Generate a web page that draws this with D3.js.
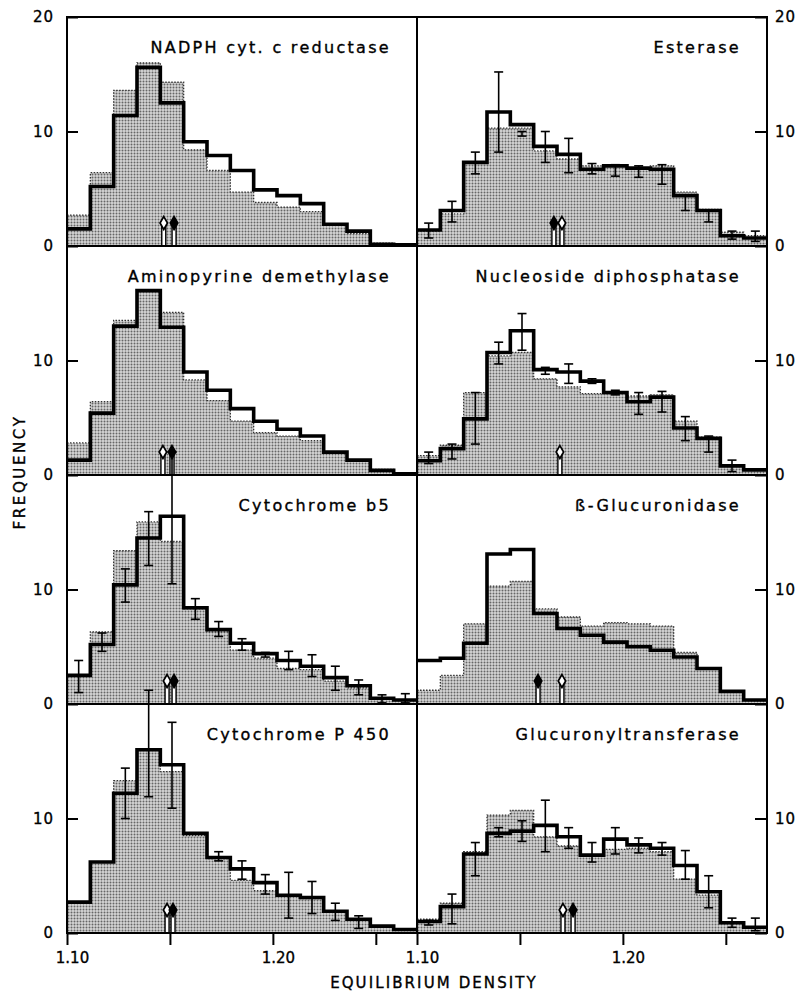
<!DOCTYPE html>
<html>
<head>
<meta charset="utf-8">
<script src="https://cdn.jsdelivr.net/npm/d3@7"></script>
<style>
  body { margin: 0; background: #fff; }
  svg { display: block; font-family: "DejaVu Sans", sans-serif; }
  .lbl { stroke: #000; stroke-width: 0.35px; }
</style>
</head>
<body>
<script>
// Values: 15 density bins from 1.10 to 1.27, frequency in %
const densityRange = [1.10, 1.27];

const titles = ["NADPH cyt. c reductase", "Esterase", "Aminopyrine demethylase", "Nucleoside diphosphatase",
    "Cytochrome b5", "ß-Glucuronidase", "Cytochrome P 450", "Glucuronyltransferase"];

// stippled histograms
const nadphShaded = [2.7, 6.4, 13.6, 16.0, 14.3, 8.4, 6.6, 4.7, 3.8, 3.4, 3.0, 1.8, 1.1, 0.25, 0.1];
const esteraseShaded = [1.3, 2.8, 7.3, 10.3, 10.3, 8.3, 7.6, 7.0, 7.0, 6.8, 7.0, 4.7, 3.2, 1.2, 0.9];
const aminoShaded = [2.8, 6.4, 13.5, 16.1, 14.2, 8.3, 6.5, 4.7, 3.7, 3.4, 3.0, 1.9, 1.3, 0.5, 0.2];
const nucleoShaded = [1.7, 2.6, 7.2, 10.4, 10.7, 8.4, 7.7, 7.1, 7.1, 6.9, 7.0, 4.7, 3.3, 0.8, 0.4];
const b5Shaded = [2.5, 6.3, 13.4, 15.9, 14.2, 8.3, 6.3, 4.7, 4.0, 3.1, 3.0, 2.0, 1.4, 0.4, 0.35];
const glucShaded = [1.2, 2.5, 7.0, 10.3, 10.7, 8.3, 7.6, 6.8, 7.1, 7.0, 6.8, 4.5, 3.1, 1.1, 0.35];
const p450Shaded = [2.7, 6.2, 13.3, 16.0, 14.1, 8.5, 6.5, 4.6, 3.7, 3.3, 3.0, 1.9, 1.1, 0.6, 0.3];
const gtShaded = [1.2, 2.6, 7.1, 10.3, 10.7, 8.4, 7.6, 6.8, 7.3, 7.4, 7.1, 4.7, 3.3, 0.9, 0.5];

// bold-line histograms
const nadphLine = [1.5, 5.2, 11.4, 15.6, 12.5, 9.1, 7.9, 6.6, 4.9, 4.4, 3.7, 1.9, 1.3, 0.15, 0.1];
const esteraseLine = [1.4, 3.1, 7.3, 11.7, 10.6, 8.7, 8.0, 6.7, 7.0, 6.8, 6.7, 4.4, 3.1, 0.9, 0.7];
const aminoLine = [1.3, 5.4, 13.0, 16.1, 12.9, 9.0, 7.4, 5.8, 4.7, 4.0, 3.4, 2.0, 1.3, 0.4, 0.1];
const nucleoLine = [1.25, 2.3, 4.9, 10.7, 12.6, 9.2, 9.0, 8.2, 7.2, 6.4, 6.8, 4.1, 3.2, 0.8, 0.45];
const b5Line = [2.5, 5.2, 10.4, 14.5, 16.4, 8.4, 6.5, 5.3, 4.4, 3.8, 3.3, 2.3, 1.6, 0.5, 0.35];
const glucLine = [3.8, 4.0, 5.3, 13.1, 13.5, 7.9, 6.6, 6.0, 5.4, 5.0, 4.7, 4.1, 3.1, 1.1, 0.35];
const p450Line = [2.7, 6.2, 12.2, 16.0, 14.7, 8.7, 6.6, 5.6, 4.4, 3.3, 3.1, 1.9, 1.2, 0.6, 0.3];
const gtLine = [1.0, 2.3, 6.9, 8.7, 8.9, 9.4, 8.4, 6.8, 8.2, 7.7, 7.4, 5.9, 3.6, 0.9, 0.5];

// error bars [low, high] per bin (null = none)
const esteraseErr = [[0.7, 2.0], [2.1, 3.9], [6.3, 8.2], [8.2, 15.2], [9.6, 10.0], [7.3, 10.0], [6.4, 9.4],
    [6.3, 7.2], [6.1, 7.1], [6.0, 7.0], [5.4, 7.1], [3.1, 4.4], [2.1, 3.1], [0.6, 1.3], [0.4, 1.3]];
const nucleoErr = [[1.0, 2.0], [1.4, 2.7], [2.7, 7.2], [9.7, 11.6], [10.9, 14.1], [8.8, 9.4], [8.0, 9.7],
    [8.0, 8.4], [7.0, 7.4], [5.3, 7.2], [5.5, 7.3], [3.0, 5.1], [2.0, 3.4], [0.3, 1.3], null];
const b5Err = [[1.0, 3.8], [4.6, 6.2], [8.9, 11.8], [12.1, 16.8], [10.5, 22.0], [7.4, 9.2], [5.9, 7.2],
    [4.7, 5.7], [4.1, 4.5], [3.0, 4.6], [2.4, 4.3], [1.2, 3.3], [0.8, 2.1], [0.1, 0.8], [0.1, 0.9]];
const p450Err = [null, null, [10.0, 14.4], [11.9, 21.2], [10.9, 18.4], null, [6.3, 7.1],
    [4.7, 6.3], [3.4, 5.1], [1.3, 5.3], [1.7, 4.5], [1.1, 2.6], [0.4, 1.5], null, null];
const gtErr = [[0.7, 1.1], [0.8, 3.4], [5.0, 7.9], [8.4, 9.2], [8.0, 9.8], [7.1, 11.6], [7.4, 9.2],
    [6.2, 7.9], [6.9, 9.2], [7.0, 8.3], [6.8, 7.9], [4.7, 7.2], [2.2, 5.0], [0.5, 1.3], [0.2, 1.3]];

// median density arrows (open / filled), one per panel
const openArrows = [1.147, 1.1704, 1.1466, 1.1694, 1.1486, 1.1704, 1.1486, 1.1709];
const filledArrows = [1.152, 1.1665, 1.151, null, 1.152, 1.1588, 1.1515, 1.1758];

const yTicks = [0, 10, 20];
const xTicks = [1.10, 1.15, 1.20, 1.25];
const xLabelled = [1.10, 1.20];

const panels = [
    {shaded: nadphShaded, line: nadphLine, err: null},
    {shaded: esteraseShaded, line: esteraseLine, err: esteraseErr},
    {shaded: aminoShaded, line: aminoLine, err: null},
    {shaded: nucleoShaded, line: nucleoLine, err: nucleoErr},
    {shaded: b5Shaded, line: b5Line, err: b5Err},
    {shaded: glucShaded, line: glucLine, err: null},
    {shaded: p450Shaded, line: p450Line, err: p450Err},
    {shaded: gtShaded, line: gtLine, err: gtErr}
].map((p, i) => Object.assign(p, {title: titles[i], open: openArrows[i], filled: filledArrows[i]}));

// layout
const width = 799, height = 994,
    colX = [67, 417],
    gridTop = 17,
    panelW = 350,
    rowH = 229,
    arrowLen = 26;

const svg = d3.select('body').append('svg')
    .attr('width', width)
    .attr('height', height);

// stipple fill
const pat = svg.append('defs').append('pattern')
    .attr('id', 'stipple')
    .attr('patternUnits', 'userSpaceOnUse')
    .attr('width', 3).attr('height', 3);
pat.append('rect').attr('width', 3).attr('height', 3).attr('fill', '#d6d6d6');
pat.append('circle').attr('cx', 1.5).attr('cy', 1.5).attr('r', 1).attr('fill', '#666');

const x = d3.scaleLinear().domain(densityRange).range([0, panelW]);
const y = d3.scaleLinear().domain([0, 20]).range([rowH, 0]);

const nBins = nadphShaded.length;
const binW = (densityRange[1] - densityRange[0]) / nBins;
const edges = d3.range(nBins + 1).map(i => densityRange[0] + i * binW);

const stepPts = vals => edges.map((e, i) => [e, vals[Math.min(i, nBins - 1)]]);

const area = d3.area()
    .curve(d3.curveStepAfter)
    .x(d => x(d[0]))
    .y0(y(0))
    .y1(d => y(d[1]));

const line = d3.line()
    .curve(d3.curveStepAfter)
    .x(d => x(d[0]))
    .y(d => y(d[1]));

panels.forEach((p, i) => {
    const col = i % 2, row = Math.floor(i / 2);
    const g = svg.append('g')
        .attr('transform', 'translate(' + colX[col] + ',' + (gridTop + row * rowH) + ')');

    // stippled histogram
    g.append('path')
        .attr('d', area(stepPts(p.shaded)))
        .attr('fill', 'url(#stipple)');
    g.append('path')
        .attr('d', line(stepPts(p.shaded)))
        .attr('fill', 'none')
        .attr('stroke', '#333')
        .attr('stroke-width', 1.3)
        .attr('stroke-dasharray', '1.5,1.5');

    // bold histogram
    g.append('path')
        .attr('d', line(stepPts(p.line)))
        .attr('fill', 'none')
        .attr('stroke', '#000')
        .attr('stroke-width', 3.6)
        .attr('stroke-linejoin', 'miter');

    // error bars
    if (p.err) {
        const eb = g.append('g').selectAll('g')
            .data(p.err.map((e, j) => ({e: e, c: edges[j] + binW / 2})).filter(d => d.e))
            .enter().append('g')
            .attr('stroke', '#000')
            .attr('stroke-width', 1.6);
        eb.append('line')
            .attr('x1', d => x(d.c)).attr('x2', d => x(d.c))
            .attr('y1', d => y(d.e[0])).attr('y2', d => y(d.e[1]));
        eb.selectAll('.cap')
            .data(d => [[d.c, d.e[0]], [d.c, d.e[1]]])
            .enter().append('line')
            .attr('class', 'cap')
            .attr('x1', d => x(d[0]) - 4.5).attr('x2', d => x(d[0]) + 4.5)
            .attr('y1', d => y(d[1])).attr('y2', d => y(d[1]));
    }

    // arrows
    const arrows = [{d: p.open, fill: '#fff'}, {d: p.filled, fill: '#000'}].filter(a => a.d);
    arrows.forEach(a => {
        const ax = x(a.d), base = y(0);
        g.append('rect')
            .attr('x', ax - 2).attr('width', 4)
            .attr('y', base - arrowLen + 4).attr('height', arrowLen - 4)
            .attr('fill', '#fff')
            .attr('stroke', '#000')
            .attr('stroke-width', 1.4);
        g.append('path')
            .attr('d', d3.symbol(d3.symbolDiamond, 48)())
            .attr('transform', 'translate(' + ax + ',' + (base - arrowLen + 3) + ')')
            .attr('fill', a.fill)
            .attr('stroke', '#000')
            .attr('stroke-width', 1.7);
    });

    // frame
    g.append('rect')
        .attr('width', panelW).attr('height', rowH)
        .attr('fill', 'none')
        .attr('stroke', '#000')
        .attr('stroke-width', 2);

    // title
    g.append('text')
        .attr('class', 'lbl')
        .attr('x', panelW - 26)
        .attr('y', 36)
        .attr('text-anchor', 'end')
        .attr('font-size', 16)
        .attr('letter-spacing', 2.3)
        .text(p.title);

    // y axis, ticks point inward
    const ticks = row === 0 ? yTicks : yTicks.slice(0, 2);
    let yAxis = col === 0
        ? d3.axisLeft(y).tickValues(ticks).tickSize(-11).tickPadding(13)
        : d3.axisRight(y).tickValues(ticks).tickSize(-12).tickPadding(8);
    let ya = g.append('g')
        .attr('transform', col === 0 ? null : 'translate(' + panelW + ',0)')
        .call(yAxis);
    ya.select('.domain').remove();
    ya.selectAll('line').attr('stroke-width', 2);
    ya.selectAll('text')
        .attr('class', 'lbl')
        .attr('font-size', 15)
        .attr('letter-spacing', 1)
        .attr('font-family', '"DejaVu Sans", sans-serif');

    // x axis on bottom row
    if (row === 3) {
        let xa = g.append('g')
            .attr('transform', 'translate(0,' + rowH + ')')
            .call(d3.axisBottom(x).tickValues(xTicks).tickSize(12).tickPadding(7)
                .tickFormat(d => xLabelled.includes(d) ? d3.format('.2f')(d) : ''));
        xa.select('.domain').remove();
        xa.selectAll('line').attr('stroke-width', 2);
        xa.selectAll('text')
            .attr('class', 'lbl')
            .attr('dx', 5)
            .attr('font-size', 15)
            .attr('font-family', '"DejaVu Sans", sans-serif');
    }
});

// axis titles
svg.append('text')
    .attr('class', 'lbl')
    .attr('x', 434)
    .attr('y', 988)
    .attr('text-anchor', 'middle')
    .attr('font-size', 15)
    .attr('letter-spacing', 2.1)
    .text('EQUILIBRIUM DENSITY');

svg.append('text')
    .attr('class', 'lbl')
    .attr('transform', 'translate(25,472) rotate(-90)')
    .attr('text-anchor', 'middle')
    .attr('font-size', 15)
    .attr('letter-spacing', 2.6)
    .text('FREQUENCY');
</script>
</body>
</html>
